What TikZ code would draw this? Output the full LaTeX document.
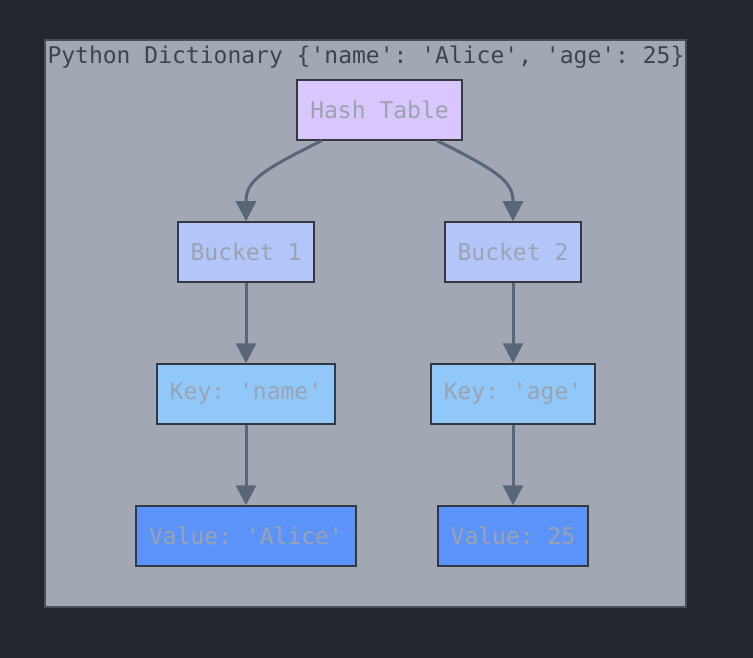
\documentclass[tikz,border=0pt]{standalone}
\usepackage{fontspec}
\setmonofont{DejaVu Sans Mono}
\usepackage{tikz}
\usetikzlibrary{arrows.meta}

\definecolor{darkbg}{RGB}{35,38,46}
\definecolor{clusterfill}{RGB}{161,168,180}
\definecolor{clusterline}{RGB}{72,77,88}
\definecolor{titletext}{RGB}{61,68,81}
\definecolor{nodetext}{RGB}{156,163,175}
\definecolor{nodeline}{RGB}{52,56,66}
\definecolor{edgecol}{RGB}{90,101,119}
\definecolor{hashfill}{RGB}{216,198,252}
\definecolor{bucketfill}{RGB}{179,198,250}
\definecolor{keyfill}{RGB}{144,200,250}
\definecolor{valuefill}{RGB}{92,147,248}

\begin{document}
\begin{tikzpicture}[x=1pt, y=-1pt,
  box/.style={draw=nodeline, line width=1.5pt, minimum height=60pt, inner sep=0pt,
    text=nodetext, font=\ttfamily\fontsize{23}{28}\selectfont},
  edge/.style={draw=edgecol, line width=3pt, -{Triangle[width=20pt,length=20pt]}}]

\useasboundingbox[fill=darkbg] (0,0) rectangle (753,658);

\draw[fill=clusterfill, draw=clusterline, line width=1.5pt] (45,40) rectangle (686,607);
\node (title) at (366,57) [text=titletext, font=\ttfamily\fontsize{23}{28}\selectfont]
  {Python Dictionary \{'name': 'Alice', 'age': 25\}};

   \node (hash) at (379.5,110) [box, fill=hashfill, minimum width=165pt] {Hash Table};

   \node (bucketA) at (246,252) [box, fill=bucketfill, minimum width=136pt] {Bucket 1};
   \node (bucketB) at (513,252) [box, fill=bucketfill, minimum width=136pt] {Bucket 2};

   \node (keyA) at (246,394) [box, fill=keyfill, minimum width=178pt] {Key: 'name'};
   \node (keyB) at (513,394) [box, fill=keyfill, minimum width=164pt] {Key: 'age'};

   \node (valA) at (246,536) [box, fill=valuefill, minimum width=220pt] {Value: 'Alice'};
   \node (valB) at (513,536) [box, fill=valuefill, minimum width=150pt] {Value: 25};

\draw[edge] (hash.-152) .. controls (258,172) and (246,182) .. (bucketA.north);
\draw[edge] (hash.-28) .. controls (500,172) and (513,182) .. (bucketB.north);

\draw[edge] (bucketA) -- (keyA);
\draw[edge] (bucketB) -- (keyB);
\draw[edge] (keyA) -- (valA);
\draw[edge] (keyB) -- (valB);

\end{tikzpicture}
\end{document}
